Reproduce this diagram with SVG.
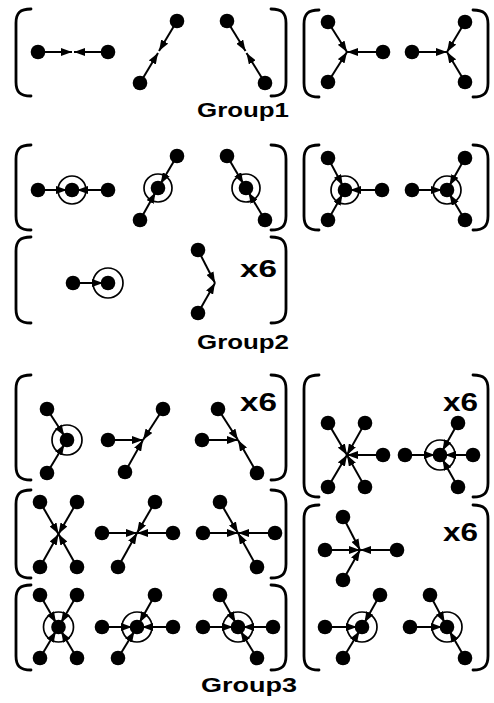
<svg xmlns="http://www.w3.org/2000/svg" width="494" height="703" viewBox="0 0 494 703">
<style>
.b{fill:none;stroke:#000;stroke-width:2.8;stroke-linecap:round}
.e{stroke:#000;stroke-width:2;marker-end:url(#ah)}
.n circle{fill:#000}
.n circle.r{fill:none;stroke:#000;stroke-width:1.7}
.t{font-family:"Liberation Sans",Arial,sans-serif;font-weight:bold;fill:#000}
</style>
<defs>
<marker id="ah" markerUnits="userSpaceOnUse" markerWidth="11" markerHeight="8" refX="11" refY="4" orient="auto">
<path d="M0,0 L11,4 L0,8 z" fill="#000"/>
</marker>
</defs>
<rect width="494" height="703" fill="#fff"/>
<g id="frames">
<path class="b" d="M31,9 C20,9 16,13 16,23 L16,82 C16,92 20,96 31,96"/>
<path class="b" d="M271,9 C282,9 286,13 286,23 L286,82 C286,92 282,96 271,96"/>
<path class="b" d="M319,10 C308,10 304,14 304,24 L304,83 C304,93 308,97 319,97"/>
<path class="b" d="M473,10 C484,10 488,14 488,24 L488,83 C488,93 484,97 473,97"/>
<path class="b" d="M31,145 C20,145 16,149 16,159 L16,216 C16,226 20,230 31,230"/>
<path class="b" d="M271,145 C282,145 286,149 286,159 L286,216 C286,226 282,230 271,230"/>
<path class="b" d="M319,145 C308,145 304,149 304,159 L304,216 C304,226 308,230 319,230"/>
<path class="b" d="M473,145 C484,145 488,149 488,159 L488,216 C488,226 484,230 473,230"/>
<path class="b" d="M31,237 C20,237 16,241 16,251 L16,309 C16,319 20,323 31,323"/>
<path class="b" d="M271,237 C282,237 286,241 286,251 L286,309 C286,319 282,323 271,323"/>
<path class="b" d="M31,375 C20,375 16,379 16,389 L16,466 C16,476 20,480 31,480"/>
<path class="b" d="M271,375 C282,375 286,379 286,389 L286,466 C286,476 282,480 271,480"/>
<path class="b" d="M31,490 C20,490 16,494 16,504 L16,564 C16,574 20,578 31,578"/>
<path class="b" d="M271,490 C282,490 286,494 286,504 L286,564 C286,574 282,578 271,578"/>
<path class="b" d="M31,585 C20,585 16,589 16,599 L16,656 C16,666 20,670 31,670"/>
<path class="b" d="M271,585 C282,585 286,589 286,599 L286,656 C286,666 282,670 271,670"/>
<path class="b" d="M319,375 C308,375 304,379 304,389 L304,483 C304,493 308,497 319,497"/>
<path class="b" d="M473,375 C484,375 488,379 488,389 L488,483 C488,493 484,497 473,497"/>
<path class="b" d="M319,505 C308,505 304,509 304,519 L304,656 C304,666 308,670 319,670"/>
<path class="b" d="M473,505 C484,505 488,509 488,519 L488,656 C488,666 484,670 473,670"/>
</g>
<g id="connectors">
<line class="e" x1="38" y1="52" x2="72" y2="52"/>
<line class="e" x1="108" y1="52" x2="74" y2="52"/>
<line class="e" x1="177" y1="21" x2="159" y2="51"/>
<line class="e" x1="140" y1="83" x2="158" y2="53"/>
<line class="e" x1="227" y1="21" x2="245.5" y2="51"/>
<line class="e" x1="265" y1="83" x2="246.5" y2="53"/>
<line class="e" x1="328" y1="22" x2="347" y2="52"/>
<line class="e" x1="328" y1="82" x2="347" y2="52"/>
<line class="e" x1="383" y1="52" x2="347" y2="52"/>
<line class="e" x1="412" y1="52" x2="447" y2="52"/>
<line class="e" x1="465" y1="22" x2="447" y2="52"/>
<line class="e" x1="465" y1="82" x2="447" y2="52"/>
<line class="e" x1="38" y1="190" x2="67" y2="190"/>
<line class="e" x1="108" y1="190" x2="77" y2="190"/>
<line class="e" x1="177" y1="156" x2="160.6" y2="183.7"/>
<line class="e" x1="140" y1="220" x2="155.5" y2="192.4"/>
<line class="e" x1="227" y1="156" x2="243.4" y2="183.7"/>
<line class="e" x1="265" y1="220" x2="248.5" y2="192.4"/>
<line class="e" x1="328" y1="158" x2="342.7" y2="185.6"/>
<line class="e" x1="328" y1="220" x2="342.5" y2="194.3"/>
<line class="e" x1="382" y1="190" x2="350" y2="190"/>
<line class="e" x1="412" y1="190" x2="442" y2="190"/>
<line class="e" x1="465" y1="158" x2="449.5" y2="185.6"/>
<line class="e" x1="465" y1="220" x2="449.6" y2="194.3"/>
<line class="e" x1="73" y1="283" x2="103" y2="283"/>
<line class="e" x1="198" y1="250" x2="215" y2="283"/>
<line class="e" x1="198" y1="313" x2="215" y2="283"/>
<line class="e" x1="47" y1="409" x2="64.3" y2="435.8"/>
<line class="e" x1="47" y1="473" x2="64.4" y2="444.3"/>
<line class="e" x1="108" y1="440" x2="143" y2="440"/>
<line class="e" x1="163" y1="409" x2="143" y2="440"/>
<line class="e" x1="125" y1="472" x2="143" y2="440"/>
<line class="e" x1="202" y1="440" x2="238" y2="440"/>
<line class="e" x1="218" y1="409" x2="238" y2="440"/>
<line class="e" x1="257" y1="473" x2="238" y2="440"/>
<line class="e" x1="328" y1="423" x2="347" y2="455"/>
<line class="e" x1="365" y1="423" x2="347" y2="455"/>
<line class="e" x1="328" y1="487" x2="347" y2="455"/>
<line class="e" x1="365" y1="487" x2="347" y2="455"/>
<line class="e" x1="383" y1="455" x2="347" y2="455"/>
<line class="e" x1="405" y1="455" x2="435" y2="455"/>
<line class="e" x1="458" y1="423" x2="442.5" y2="450.6"/>
<line class="e" x1="473" y1="455" x2="445" y2="455"/>
<line class="e" x1="458" y1="487" x2="442.5" y2="459.4"/>
<line class="e" x1="40" y1="502" x2="58.5" y2="534"/>
<line class="e" x1="77" y1="502" x2="58.5" y2="534"/>
<line class="e" x1="40" y1="567" x2="58.5" y2="534"/>
<line class="e" x1="77" y1="567" x2="58.5" y2="534"/>
<line class="e" x1="102" y1="533" x2="137" y2="533"/>
<line class="e" x1="173" y1="533" x2="137" y2="533"/>
<line class="e" x1="155" y1="502" x2="137" y2="533"/>
<line class="e" x1="118" y1="567" x2="137" y2="533"/>
<line class="e" x1="203" y1="533" x2="238" y2="533"/>
<line class="e" x1="275" y1="533" x2="238" y2="533"/>
<line class="e" x1="220" y1="502" x2="238" y2="533"/>
<line class="e" x1="257" y1="567" x2="238" y2="533"/>
<line class="e" x1="40" y1="595" x2="56" y2="622.7"/>
<line class="e" x1="77" y1="595" x2="61" y2="622.7"/>
<line class="e" x1="40" y1="658" x2="55.9" y2="631.3"/>
<line class="e" x1="77" y1="658" x2="61.1" y2="631.3"/>
<line class="e" x1="102" y1="627" x2="132" y2="627"/>
<line class="e" x1="173" y1="627" x2="142" y2="627"/>
<line class="e" x1="155" y1="595" x2="139.5" y2="622.6"/>
<line class="e" x1="118" y1="658" x2="134.4" y2="631.3"/>
<line class="e" x1="203" y1="627" x2="233" y2="627"/>
<line class="e" x1="273" y1="627" x2="243" y2="627"/>
<line class="e" x1="220" y1="595" x2="235.5" y2="622.6"/>
<line class="e" x1="257" y1="658" x2="240.6" y2="631.3"/>
<line class="e" x1="343" y1="517" x2="360" y2="550"/>
<line class="e" x1="325" y1="550" x2="360" y2="550"/>
<line class="e" x1="397" y1="550" x2="360" y2="550"/>
<line class="e" x1="343" y1="580" x2="360" y2="550"/>
<line class="e" x1="325" y1="627" x2="357" y2="627"/>
<line class="e" x1="380" y1="595" x2="364.5" y2="622.6"/>
<line class="e" x1="343" y1="658" x2="359.4" y2="631.3"/>
<line class="e" x1="410" y1="627" x2="442" y2="627"/>
<line class="e" x1="430" y1="595" x2="444.7" y2="622.6"/>
<line class="e" x1="465" y1="658" x2="449.5" y2="631.3"/>
</g>
<g class="n">
<g id="n1"><circle cx="38" cy="52" r="7.3"/></g>
<g id="n2"><circle cx="108" cy="52" r="7.3"/></g>
<g id="n3"><circle cx="177" cy="21" r="7.3"/></g>
<g id="n4"><circle cx="140" cy="83" r="7.3"/></g>
<g id="n5"><circle cx="227" cy="21" r="7.3"/></g>
<g id="n6"><circle cx="265" cy="83" r="7.3"/></g>
<g id="n7"><circle cx="328" cy="22" r="7.3"/></g>
<g id="n8"><circle cx="328" cy="82" r="7.3"/></g>
<g id="n9"><circle cx="383" cy="52" r="7.3"/></g>
<g id="n10"><circle cx="412" cy="52" r="7.3"/></g>
<g id="n11"><circle cx="465" cy="22" r="7.3"/></g>
<g id="n12"><circle cx="465" cy="82" r="7.3"/></g>
<g id="n13"><circle cx="38" cy="190" r="7.3"/></g>
<g id="n14"><circle cx="72" cy="190" r="7.3"/><circle class="r" cx="72" cy="190" r="14"/></g>
<g id="n15"><circle cx="108" cy="190" r="7.3"/></g>
<g id="n16"><circle cx="177" cy="156" r="7.3"/></g>
<g id="n17"><circle cx="158" cy="188" r="7.3"/><circle class="r" cx="158" cy="188" r="14"/></g>
<g id="n18"><circle cx="140" cy="220" r="7.3"/></g>
<g id="n19"><circle cx="227" cy="156" r="7.3"/></g>
<g id="n20"><circle cx="246" cy="188" r="7.3"/><circle class="r" cx="246" cy="188" r="14"/></g>
<g id="n21"><circle cx="265" cy="220" r="7.3"/></g>
<g id="n22"><circle cx="328" cy="158" r="7.3"/></g>
<g id="n23"><circle cx="345" cy="190" r="7.3"/><circle class="r" cx="345" cy="190" r="14"/></g>
<g id="n24"><circle cx="328" cy="220" r="7.3"/></g>
<g id="n25"><circle cx="382" cy="190" r="7.3"/></g>
<g id="n26"><circle cx="412" cy="190" r="7.3"/></g>
<g id="n27"><circle cx="447" cy="190" r="7.3"/><circle class="r" cx="447" cy="190" r="14"/></g>
<g id="n28"><circle cx="465" cy="158" r="7.3"/></g>
<g id="n29"><circle cx="465" cy="220" r="7.3"/></g>
<g id="n30"><circle cx="73" cy="283" r="7.3"/></g>
<g id="n31"><circle cx="108" cy="283" r="7.3"/><circle class="r" cx="108" cy="283" r="15"/></g>
<g id="n32"><circle cx="198" cy="250" r="7.3"/></g>
<g id="n33"><circle cx="198" cy="313" r="7.3"/></g>
<g id="n34"><circle cx="47" cy="409" r="7.3"/></g>
<g id="n35"><circle cx="67" cy="440" r="7.3"/><circle class="r" cx="67" cy="440" r="15"/></g>
<g id="n36"><circle cx="47" cy="473" r="7.3"/></g>
<g id="n37"><circle cx="108" cy="440" r="7.3"/></g>
<g id="n38"><circle cx="163" cy="409" r="7.3"/></g>
<g id="n39"><circle cx="125" cy="472" r="7.3"/></g>
<g id="n40"><circle cx="202" cy="440" r="7.3"/></g>
<g id="n41"><circle cx="218" cy="409" r="7.3"/></g>
<g id="n42"><circle cx="257" cy="473" r="7.3"/></g>
<g id="n43"><circle cx="328" cy="423" r="7.3"/></g>
<g id="n44"><circle cx="365" cy="423" r="7.3"/></g>
<g id="n45"><circle cx="328" cy="487" r="7.3"/></g>
<g id="n46"><circle cx="365" cy="487" r="7.3"/></g>
<g id="n47"><circle cx="383" cy="455" r="7.3"/></g>
<g id="n48"><circle cx="405" cy="455" r="7.3"/></g>
<g id="n49"><circle cx="440" cy="455" r="7.3"/><circle class="r" cx="440" cy="455" r="15"/></g>
<g id="n50"><circle cx="458" cy="423" r="7.3"/></g>
<g id="n51"><circle cx="473" cy="455" r="7.3"/></g>
<g id="n52"><circle cx="458" cy="487" r="7.3"/></g>
<g id="n53"><circle cx="40" cy="502" r="7.3"/></g>
<g id="n54"><circle cx="77" cy="502" r="7.3"/></g>
<g id="n55"><circle cx="40" cy="567" r="7.3"/></g>
<g id="n56"><circle cx="77" cy="567" r="7.3"/></g>
<g id="n57"><circle cx="102" cy="533" r="7.3"/></g>
<g id="n58"><circle cx="173" cy="533" r="7.3"/></g>
<g id="n59"><circle cx="155" cy="502" r="7.3"/></g>
<g id="n60"><circle cx="118" cy="567" r="7.3"/></g>
<g id="n61"><circle cx="203" cy="533" r="7.3"/></g>
<g id="n62"><circle cx="275" cy="533" r="7.3"/></g>
<g id="n63"><circle cx="220" cy="502" r="7.3"/></g>
<g id="n64"><circle cx="257" cy="567" r="7.3"/></g>
<g id="n65"><circle cx="40" cy="595" r="7.3"/></g>
<g id="n66"><circle cx="77" cy="595" r="7.3"/></g>
<g id="n67"><circle cx="58.5" cy="627" r="7.3"/><circle class="r" cx="58.5" cy="627" r="15"/></g>
<g id="n68"><circle cx="40" cy="658" r="7.3"/></g>
<g id="n69"><circle cx="77" cy="658" r="7.3"/></g>
<g id="n70"><circle cx="102" cy="627" r="7.3"/></g>
<g id="n71"><circle cx="137" cy="627" r="7.3"/><circle class="r" cx="137" cy="627" r="15"/></g>
<g id="n72"><circle cx="173" cy="627" r="7.3"/></g>
<g id="n73"><circle cx="155" cy="595" r="7.3"/></g>
<g id="n74"><circle cx="118" cy="658" r="7.3"/></g>
<g id="n75"><circle cx="203" cy="627" r="7.3"/></g>
<g id="n76"><circle cx="238" cy="627" r="7.3"/><circle class="r" cx="238" cy="627" r="15"/></g>
<g id="n77"><circle cx="273" cy="627" r="7.3"/></g>
<g id="n78"><circle cx="220" cy="595" r="7.3"/></g>
<g id="n79"><circle cx="257" cy="658" r="7.3"/></g>
<g id="n80"><circle cx="343" cy="517" r="7.3"/></g>
<g id="n81"><circle cx="325" cy="550" r="7.3"/></g>
<g id="n82"><circle cx="397" cy="550" r="7.3"/></g>
<g id="n83"><circle cx="343" cy="580" r="7.3"/></g>
<g id="n84"><circle cx="325" cy="627" r="7.3"/></g>
<g id="n85"><circle cx="362" cy="627" r="7.3"/><circle class="r" cx="362" cy="627" r="15"/></g>
<g id="n86"><circle cx="380" cy="595" r="7.3"/></g>
<g id="n87"><circle cx="343" cy="658" r="7.3"/></g>
<g id="n88"><circle cx="410" cy="627" r="7.3"/></g>
<g id="n89"><circle cx="447" cy="627" r="7.3"/><circle class="r" cx="447" cy="627" r="15"/></g>
<g id="n90"><circle cx="430" cy="595" r="7.3"/></g>
<g id="n91"><circle cx="465" cy="658" r="7.3"/></g>
</g>
<g id="labels">
<text class="t" x="197" y="117" font-size="21" textLength="92" lengthAdjust="spacingAndGlyphs">Group1</text>
<text class="t" x="197" y="349" font-size="21" textLength="92" lengthAdjust="spacingAndGlyphs">Group2</text>
<text class="t" x="201" y="692" font-size="21" textLength="96" lengthAdjust="spacingAndGlyphs">Group3</text>
<text class="t" x="240" y="277" font-size="24" textLength="37" lengthAdjust="spacingAndGlyphs">x6</text>
<text class="t" x="240" y="411" font-size="25" textLength="37" lengthAdjust="spacingAndGlyphs">x6</text>
<text class="t" x="443" y="411" font-size="25" textLength="35" lengthAdjust="spacingAndGlyphs">x6</text>
<text class="t" x="443" y="541" font-size="25" textLength="35" lengthAdjust="spacingAndGlyphs">x6</text>
</g>
</svg>
